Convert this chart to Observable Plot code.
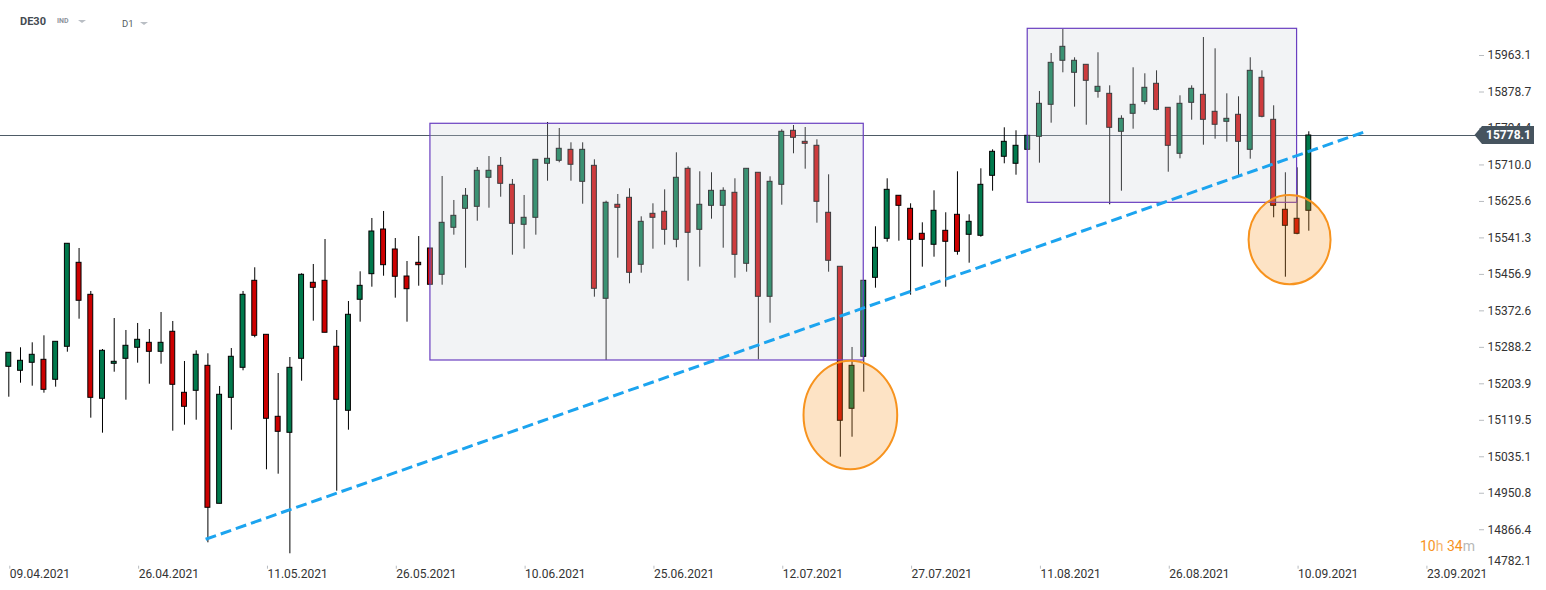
<!DOCTYPE html>
<html>
<head>
<meta charset="utf-8">
<script src="https://cdn.jsdelivr.net/npm/d3@7"></script>
<script src="https://cdn.jsdelivr.net/npm/@observablehq/plot@0.6"></script>
<style>
  html, body { margin: 0; padding: 0; background: #fff; }
  #wrap { position: relative; width: 1546px; height: 590px; font-family: Roboto, "Liberation Sans", Arial, sans-serif; }
  #wrap svg { position: absolute; left: 0; top: 0; }
  .ov { position: absolute; white-space: nowrap; line-height: 1; }
  .tri { position: absolute; width: 0; height: 0; border-left: 4px solid transparent; border-right: 4px solid transparent; border-top: 3px solid #b9bec4; }
</style>
</head>
<body>
<div id="wrap"></div>
<script>
// ---- DE30 daily candles (index 0 = 09.04.2021) ----
const open = [15243.2,15234.0,15252.5,15259.4,15213.2,15289.5,15483.7,15409.7,15169.2,15250.2,
15261.7,15287.2,15298.7,15277.9,15324.2,15183.1,15187.7,15245.5,14926.4,15171.5,
15240.9,15442.1,15317.2,15127.6,15090.6,15261.7,15437.5,15442.1,15289.5,15141.5,
15398.2,15457.4,15560.7,15514.5,15452.0,15483.7,15516.8,15456.0,15564.7,15608.6,
15613.2,15680.3,15708.0,15664.1,15571.6,15587.8,15712.7,15719.6,15745.0,15671.0,
15708.0,15400.5,15617.9,15634.0,15479.1,15597.0,15601.7,15536.9,15701.1,15560.0,
15615.5,15615.5,15645.6,15481.4,15691.9,15405.1,15664.1,15789.0,15763.5,15754.3,
15599.4,15474.5,15146.1,15266.4,15449.0,15539.2,15638.7,15608.6,15550.8,15525.4,
15557.7,15594.7,15548.5,15546.2,15684.9,15728.9,15712.7,15745.0,15775.1,15849.1,
15950.9,15923.1,15941.6,15879.2,15874.5,15786.7,15828.3,15856.0,15897.7,15842.2,
15735.8,15853.7,15872.2,15832.9,15809.8,15826.0,15745.0,15911.5,15814.4,15606.3,
15585.5,15604.0];
const high = [15275.6,15287.2,15298.7,15314.9,15301.0,15527.7,15516.8,15417.4,15283.2,15354.9,
15327.2,15343.4,15329.5,15368.8,15348.0,15255.5,15280.2,15273.3,15197.7,15285.5,
15417.4,15472.2,15317.2,15227.7,15264.7,15458.3,15479.8,15537.6,15327.2,15394.2,
15462.9,15586.2,15602.4,15539.9,15486.7,15544.5,15516.8,15683.3,15627.8,15655.5,
15704.1,15729.5,15727.2,15676.4,15639.4,15721.9,15808.2,15794.3,15761.2,15761.2,
15721.9,15626.2,15641.7,15654.9,15590.1,15620.2,15652.5,15738.1,15705.7,15694.2,
15691.9,15657.2,15678.0,15701.1,15691.9,15682.6,15791.3,15801.2,15796.6,15768.2,
15687.2,15474.5,15287.9,15442.1,15567.0,15678.0,15638.7,15620.2,15576.2,15650.2,
15599.4,15694.2,15594.7,15701.1,15745.0,15795.9,15789.0,15777.4,15879.9,15967.7,
16023.2,15957.8,15941.6,15969.4,15893.0,15823.7,15934.7,15920.8,15927.7,15842.2,
15869.9,15893.0,16004.7,15978.6,15874.5,15867.6,15957.8,15927.7,15846.8,15691.9,
15703.4,15786.7];
const low = [15172.9,15205.3,15198.4,15182.2,15196.1,15277.0,15353.3,15124.4,15089.7,15230.7,
15166.0,15251.6,15203.0,15249.2,15094.3,15108.2,15119.7,14836.2,14926.4,15096.6,
15234.0,15310.3,15005.0,14994.9,14810.8,15209.9,15348.7,15321.9,14955.6,15096.6,
15346.4,15427.3,15452.7,15401.9,15346.4,15429.6,15432.9,15431.9,15547.6,15471.2,
15579.9,15610.0,15635.4,15501.3,15515.2,15547.6,15672.4,15715.0,15672.4,15619.2,
15404.2,15257.8,15494.4,15435.2,15459.7,15515.2,15524.4,15518.4,15441.2,15473.6,
15584.6,15517.5,15448.1,15462.0,15259.4,15344.1,15616.9,15735.8,15700.2,15575.3,
15462.0,15034.2,15080.4,15184.5,15425.0,15531.4,15533.7,15408.8,15473.6,15496.7,
15427.3,15501.3,15482.8,15542.9,15649.3,15712.7,15686.3,15745.0,15714.1,15806.6,
15923.1,15843.6,15801.9,15864.4,15617.9,15649.3,15792.7,15849.1,15835.2,15693.2,
15724.2,15813.5,15755.7,15769.6,15762.6,15684.0,15723.3,15819.0,15587.8,15450.4,
15548.5,15556.8];
const close = [15275.6,15257.1,15271.0,15190.0,15301.0,15527.7,15395.9,15171.5,15280.2,15254.8,
15291.8,15305.7,15277.9,15298.7,15201.6,15150.7,15271.0,14917.2,15178.5,15266.4,
15409.7,15314.9,15123.0,15092.9,15240.9,15456.0,15425.9,15321.9,15166.9,15363.5,
15430.5,15556.1,15478.2,15451.4,15422.7,15478.2,15432.9,15576.2,15592.4,15638.7,
15696.5,15696.5,15666.4,15573.9,15587.8,15721.9,15724.2,15747.4,15710.4,15745.0,
15423.6,15622.5,15610.9,15460.6,15578.5,15587.8,15560.0,15680.3,15553.1,15617.9,
15650.2,15650.2,15502.2,15701.1,15405.1,15671.0,15786.7,15772.8,15758.9,15624.8,
15488.4,15118.4,15245.5,15442.1,15518.4,15652.5,15615.5,15536.9,15536.9,15604.0,
15532.3,15509.2,15578.5,15664.1,15740.4,15763.5,15754.3,15777.4,15851.4,15946.2,
15983.2,15950.9,15904.6,15890.7,15795.9,15816.7,15849.1,15888.4,15837.5,15754.3,
15851.4,15886.1,15814.4,15802.9,15816.7,15763.5,15927.7,15821.4,15615.5,15569.3,
15550.8,15778.1];

// x-axis labels (candle index -> date)
const xTickIdx = [0, 11, 22, 33, 44, 55, 66, 77, 88, 99, 110, 121];
const xTickLabels = ["09.04.2021","26.04.2021","11.05.2021","26.05.2021","10.06.2021","25.06.2021",
  "12.07.2021","27.07.2021","11.08.2021","26.08.2021","10.09.2021","23.09.2021"];
// price axis labels
const yTicks = [15963.1,15878.7,15794.4,15710.0,15625.6,15541.3,15456.9,15372.6,15288.2,15203.9,
  15119.5,15035.1,14950.8,14866.4,14782.1];
const currentPrice = 15778.1;

// annotations (data space)
const boxX1 = [36, 87], boxX2 = [73, 110], boxLow = [15257.8, 15622.4], boxHigh = [15805.2, 16024.8];
const trendX = [16.85, 115.7], trendY = [14843.2, 15784.4];
const ellX1 = [67.9, 105.9], ellX2 = [75.9, 112.9], ellLow = [15005.0, 15432.9], ellHigh = [15256.2, 15639.4];

const GREEN = "#00794c", RED = "#cc0000";
const candles = open.map((o, i) => ({i, open: o, high: high[i], low: low[i], close: close[i]}));
const boxes = boxX1.map((x, k) => ({x1: x, x2: boxX2[k], y1: boxLow[k], y2: boxHigh[k]}));
const trend = trendX.map((x, k) => ({x, y: trendY[k]}));
const half = 0.21;

const chart = Plot.plot({
  width: 1546, height: 590,
  marginTop: 0, marginBottom: 24.3, marginLeft: 0, marginRight: 68,
  style: {fontFamily: "Roboto, 'Liberation Sans', Arial, sans-serif", fontSize: "12px", background: "transparent", overflow: "visible"},
  x: {domain: [-0.709, 125.49]},
  y: {domain: [14782.1, 16090.3]},
  marks: [
    Plot.ruleY([currentPrice], {stroke: "#4e5b66", strokeWidth: 1}),
    Plot.ruleX(candles, {x: "i", y1: "low", y2: "high", stroke: "#000", strokeWidth: 1}),
    Plot.rect(candles, {x1: d => d.i - half, x2: d => d.i + half, y1: "open", y2: "close",
      fill: d => d.close >= d.open ? GREEN : RED, stroke: "#000", strokeWidth: 1}),
    Plot.rect(boxes, {x1: "x1", x2: "x2", y1: "y1", y2: "y2", fill: "rgb(208,212,219)", fillOpacity: 0.28,
      stroke: "#6a3fc0", strokeWidth: 1.2}),
    Plot.axisX({ticks: xTickIdx, tickFormat: d => xTickLabels[xTickIdx.indexOf(d)], tickSize: 3, tickPadding: 0,
      textAnchor: "start", dx: 1, stroke: "#b8bcc0", fill: "#333", fontSize: 12}),
    Plot.axisY({anchor: "right", ticks: yTicks.slice(0, -1), tickFormat: d => d.toFixed(1), tickSize: 5, tickPadding: 4,
      stroke: "#b8bcc0", fill: "#333", fontSize: 12}),
    Plot.text([yTicks[yTicks.length - 1]], {y: d => d, frameAnchor: "right", dx: 9, dy: -5, textAnchor: "start",
      text: d => d.toFixed(1), fill: "#333", fontSize: 12})
  ]
});

const wrap = document.getElementById("wrap");
wrap.appendChild(chart);

const sx = chart.scale("x"), sy = chart.scale("y");
const svg = d3.select(chart);
// highlight ellipses
const eg = svg.append("g");
ellX1.forEach((x1, k) => {
  const a = sx.apply(x1), b = sx.apply(ellX2[k]);
  const t = sy.apply(ellHigh[k]), u = sy.apply(ellLow[k]);
  eg.append("ellipse")
    .attr("cx", (a + b) / 2).attr("cy", (t + u) / 2)
    .attr("rx", (b - a) / 2).attr("ry", (u - t) / 2)
    .attr("fill", "#f7931e").attr("fill-opacity", 0.26)
    .attr("stroke", "#f7931e").attr("stroke-width", 2);
});
// dashed trend line on top
svg.append("path")
  .attr("d", d3.line()(trend.map(p => [sx.apply(p.x), sy.apply(p.y)])))
  .attr("fill", "none").attr("stroke", "#1ca4ef").attr("stroke-width", 3)
  .attr("stroke-dasharray", "11,5");
// current price tag
const py = sy.apply(currentPrice);
const tg = svg.append("g");
tg.append("path")
  .attr("d", `M1474.5,${py} L1482,${py - 9} L1534,${py - 9} L1534,${py + 9} L1482,${py + 9} Z`)
  .attr("fill", "#46545f");
tg.append("text").attr("x", 1508.5).attr("y", py).attr("dy", "0.35em")
  .attr("text-anchor", "middle").attr("fill", "#fff").attr("font-weight", "bold")
  .attr("font-size", 12).text(currentPrice.toFixed(1));

// header overlay
function ov(text, css) { const d = document.createElement("div"); d.className = "ov"; d.textContent = text; Object.assign(d.style, css); wrap.appendChild(d); return d; }
ov("DE30", {left: "20px", top: "16px", fontSize: "11px", fontWeight: "bold", color: "#444b52"});
ov("IND", {left: "57px", top: "18px", fontSize: "7px", fontWeight: "bold", color: "#8d949b"});
let t1 = document.createElement("div"); t1.className = "tri"; Object.assign(t1.style, {left: "78px", top: "20px"}); wrap.appendChild(t1);
ov("D1", {left: "122px", top: "19px", fontSize: "9.5px", color: "#555c63"});
let t2 = document.createElement("div"); t2.className = "tri"; Object.assign(t2.style, {left: "140px", top: "22px"}); wrap.appendChild(t2);
// countdown
const cd = document.createElement("div"); cd.className = "ov";
Object.assign(cd.style, {left: "1420px", top: "539px", fontSize: "14px"});
cd.innerHTML = '<span style="color:#f7931e">10</span><span style="color:#f6b66e">h</span> <span style="color:#f7931e">34</span><span style="color:#b8b8b8">m</span>';
wrap.appendChild(cd);
</script>
</body>
</html>
